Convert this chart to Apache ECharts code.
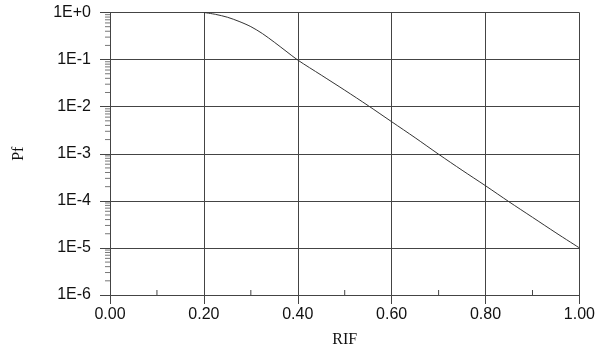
<!DOCTYPE html>
<html>
<head>
<meta charset="utf-8">
<script src="https://cdn.jsdelivr.net/npm/echarts@6/dist/echarts.min.js"></script>
<style>
  html, body { margin: 0; padding: 0; background: #fff; }
  #chart { width: 598px; height: 354px; }
</style>
</head>
<body>
<div id="chart"></div>
<script>
// values
const rif = [0.20, 0.225, 0.25, 0.275, 0.30, 0.325, 0.35, 0.375, 0.40, 0.45, 0.50,
  0.55, 0.60, 0.65, 0.70, 0.75, 0.80, 0.85, 0.90, 0.95, 1.00]
const pf = [1, 0.912, 0.794, 0.646, 0.501, 0.355, 0.234, 0.151, 0.0977, 0.0468, 0.0224,
  0.0105, 0.00479, 0.00219, 0.000977, 0.000447, 0.000209, 0.0000955, 0.0000447, 0.0000209, 0.00001]
const xMinorTicks = [0.1, 0.3, 0.5, 0.7, 0.9]
const yDecades = [-6, -5, -4, -3, -2, -1]

// log minor ticks 2..9 in each decade
const yMinorTicks = []
yDecades.forEach(function (d) {
  for (let k = 2; k <= 9; k++) yMinorTicks.push(k * Math.pow(10, d))
})

const chart = echarts.init(document.getElementById('chart'))
const lineColor = '#444'

function yLabel(v) {
  const e = Math.round(Math.log10(v))
  return '1E' + (e >= 0 ? '+' : '') + e
}

chart.setOption({
  animation: false,
  backgroundColor: '#fff',
  grid: { left: 110, right: 16, top: 12.5, bottom: 59 },
  xAxis: {
    type: 'value',
    min: 0,
    max: 1,
    interval: 0.2,
    name: 'RIF',
    nameLocation: 'middle',
    nameGap: 37,
    nameTextStyle: { fontFamily: 'Liberation Serif', fontSize: 16, color: '#111' },
    axisLine: { show: true, lineStyle: { color: lineColor, width: 1 } },
    axisTick: { show: true, length: 9, lineStyle: { color: lineColor } },
    axisLabel: {
      margin: 12,
      fontFamily: 'Liberation Sans',
      fontSize: 16,
      color: '#111',
      formatter: function (v) { return v.toFixed(2) }
    },
    splitLine: { show: true, lineStyle: { color: lineColor, width: 1 } }
  },
  yAxis: {
    type: 'log',
    logBase: 10,
    min: 1e-6,
    max: 1,
    name: 'Pf',
    nameLocation: 'middle',
    nameGap: 83,
    nameRotate: 90,
    nameTextStyle: { fontFamily: 'Liberation Serif', fontSize: 16, color: '#111' },
    axisLine: { show: true, lineStyle: { color: lineColor, width: 1 } },
    axisTick: { show: true, length: 10, lineStyle: { color: lineColor } },
    axisLabel: {
      margin: 19,
      fontFamily: 'Liberation Sans',
      fontSize: 16,
      color: '#111',
      formatter: yLabel
    },
    splitLine: { show: true, lineStyle: { color: lineColor, width: 1 } }
  },
  series: [
    {
      name: 'Pf',
      type: 'line',
      data: rif.map(function (x, i) { return [x, pf[i]] }),
      symbol: 'none',
      smooth: 0.3,
      lineStyle: { color: '#333', width: 1 }
    },
    {
      // log minor ticks on the y axis (outside, left)
      type: 'custom',
      clip: false,
      silent: true,
      data: yMinorTicks.map(function (v) { return [0, v] }),
      renderItem: function (params, api) {
        const p = api.coord([0, api.value(1)])
        return {
          type: 'line',
          shape: { x1: p[0] - 5, y1: p[1], x2: p[0], y2: p[1] },
          style: { stroke: '#777', lineWidth: 1 }
        }
      }
    },
    {
      // minor ticks on the x axis (inside, up)
      type: 'custom',
      clip: false,
      silent: true,
      data: xMinorTicks.map(function (v) { return [v, 1e-6] }),
      renderItem: function (params, api) {
        const p = api.coord([api.value(0), 1e-6])
        return {
          type: 'line',
          shape: { x1: p[0], y1: p[1], x2: p[0], y2: p[1] - 5 },
          style: { stroke: lineColor, lineWidth: 1 }
        }
      }
    }
  ]
})
</script>
</body>
</html>
